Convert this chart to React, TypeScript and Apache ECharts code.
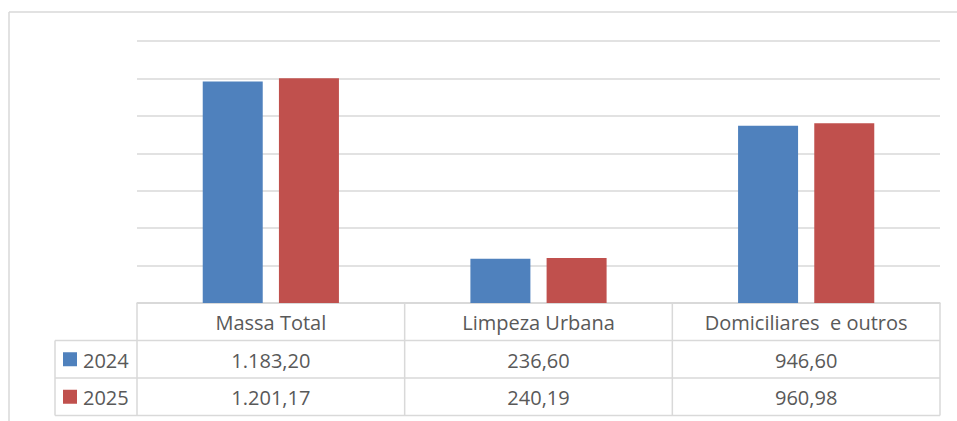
import React, { useEffect, useRef } from "react";
import * as echarts from "echarts";

const categories = ["Massa Total", "Limpeza Urbana", "Domiciliares  e outros"];
const seriesNames = ["2024", "2025"];
const values2024 = [1183.2, 236.6, 946.6];
const values2025 = [1201.17, 240.19, 960.98];
const labels2024 = ["1.183,20", "236,60", "946,60"];
const labels2025 = ["1.201,17", "240,19", "960,98"];
const colors = ["#4F81BD", "#C0504D"];

const W = 957;
const H = 421;
const GRID = { left: 137, right: 17, top: 41, bottom: 118 };
const LINE = "#D9D9D9";
const TEXT = "#595959";
const FONT = "'Open Sans', 'Noto Sans', sans-serif";

export default function App() {
  const ref = useRef<HTMLDivElement>(null);
  useEffect(() => {
    if (!ref.current) return;
    const chart = echarts.init(ref.current, undefined, { renderer: "svg" });
    chart.setOption({
      animation: false,
      backgroundColor: "#fff",
      grid: { ...GRID },
      xAxis: {
        type: "category",
        data: categories,
        axisLine: { show: true, lineStyle: { color: LINE, width: 1.5 } },
        axisTick: { show: false },
        axisLabel: { show: false },
      },
      yAxis: {
        type: "value",
        min: 0,
        max: 1400,
        interval: 200,
        axisLine: { show: false },
        axisTick: { show: false },
        axisLabel: { show: false },
        splitLine: { lineStyle: { color: LINE, width: 1.5 } },
      },
      series: [
        { name: seriesNames[0], type: "bar", data: values2024, barWidth: 60, barGap: "27%", itemStyle: { color: colors[0] } },
        { name: seriesNames[1], type: "bar", data: values2025, barWidth: 60, barGap: "27%", itemStyle: { color: colors[1] } },
      ],
    });

    const left = GRID.left;
    const right = W - GRID.right;
    const top = H - GRID.bottom;
    const rowH = 37.5;
    const r1 = top + rowH;
    const r2 = top + 2 * rowH;
    const r3 = top + 3 * rowH;
    const legendLeft = 55;
    const colW = (right - left) / categories.length;
    const centers = categories.map((c) => chart.convertToPixel({ xAxisIndex: 0 }, c) as number);

    const lineEl = (x1: number, y1: number, x2: number, y2: number) => ({
      type: "line",
      shape: { x1, y1, x2, y2 },
      style: { stroke: LINE, lineWidth: 1.5 },
      silent: true,
    });
    const textEl = (x: number, y: number, t: string, align = "center") => ({
      type: "text",
      x,
      y,
      style: { text: t, fill: TEXT, font: `20px ${FONT}`, align, verticalAlign: "middle" },
      silent: true,
    });

    const g: any[] = [];
    // outer frame
    g.push(lineEl(9, 12, W, 12));
    g.push(lineEl(9, 12, 9, H));
    // table lines
    g.push(lineEl(left, top, right, top));
    g.push(lineEl(legendLeft, r1, right, r1));
    g.push(lineEl(legendLeft, r2, right, r2));
    g.push(lineEl(legendLeft, r3, right, r3));
    g.push(lineEl(legendLeft, r1, legendLeft, r3));
    for (let i = 0; i <= categories.length; i++) {
      const x = left + i * colW;
      g.push(lineEl(x, top, x, r3));
    }
    categories.forEach((c, i) => {
      g.push(textEl(centers[i], top + rowH / 2 + 1, c));
      g.push(textEl(centers[i], r1 + rowH / 2 + 1, labels2024[i]));
      g.push(textEl(centers[i], r2 + rowH / 2 + 1, labels2025[i]));
    });
    [r1, r2].forEach((ry, i) => {
      g.push({
        type: "rect",
        shape: { x: 63, y: ry + rowH / 2 - 7, width: 14, height: 14 },
        style: { fill: colors[i] },
        silent: true,
      });
      g.push(textEl(83, ry + rowH / 2 + 1, seriesNames[i], "left"));
    });
    chart.setOption({ graphic: g });

    return () => chart.dispose();
  }, []);
  return <div ref={ref} style={{ width: W, height: H, position: "absolute", left: 0, top: 0 }} />;
}
